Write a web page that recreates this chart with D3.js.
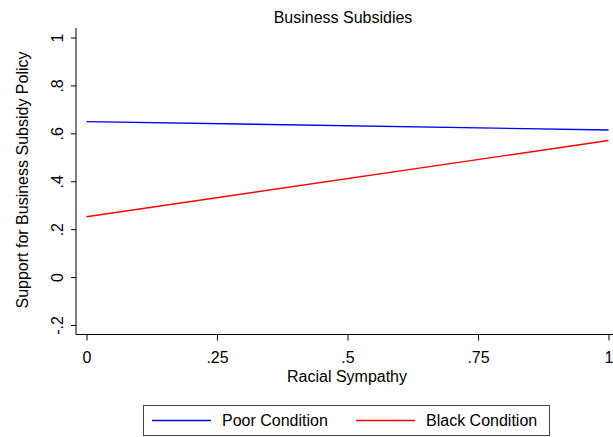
<!DOCTYPE html>
<html>
<head>
<meta charset="utf-8">
<script src="https://cdn.jsdelivr.net/npm/d3@7"></script>
<style>
  body { margin: 0; background: #fff; }
  text { font-family: "Liberation Sans", Arial, Helvetica, sans-serif; fill: #000; }
</style>
</head>
<body>
<svg></svg>
<script>
// fitted lines
var sympathy = [0, 1];
var poorCondition = [0.649, 0.614];
var blackCondition = [0.252, 0.570];
var xTicks = [0, 0.25, 0.5, 0.75, 1];
var xTickLabels = ["0", ".25", ".5", ".75", "1"];
var yTicks = [-0.2, 0, 0.2, 0.4, 0.6, 0.8, 1];
var yTickLabels = ["-.2", "0", ".2", ".4", ".6", ".8", "1"];
var seriesNames = ["Poor Condition", "Black Condition"];
var seriesColors = ["#0000ff", "#ff0000"];

var width = 613;
var height = 437;
var fontSize = 16;
var font = "'Liberation Sans', Arial, Helvetica, sans-serif";

var svg = d3.select("svg")
    .attr("width", width)
    .attr("height", height);

var x = d3.scaleLinear().domain([0, 1]).range([86.5, 608.5]);
var y = d3.scaleLinear().domain([-0.2, 1]).range([325, 37.5]);

var axisLeftX = 76;
var axisBottomY = 334.5;

// y axis
var yAxis = svg.append("g")
    .attr("transform", "translate(" + axisLeftX + ",0)")
    .call(d3.axisLeft(y)
      .tickValues(yTicks)
      .tickFormat((d, i) => yTickLabels[i])
      .tickSize(5)
      .tickSizeOuter(0))
    .attr("font-size", fontSize)
    .attr("font-family", font);
yAxis.select(".domain").remove();
yAxis.append("line")
    .attr("x1", 0).attr("x2", 0)
    .attr("y1", 28).attr("y2", axisBottomY)
    .attr("stroke", "#000");
yAxis.selectAll(".tick line").attr("stroke", "#000");
yAxis.selectAll(".tick text")
    .attr("x", 0)
    .attr("dy", 0)
    .attr("transform", "translate(-13,0) rotate(-90)")
    .attr("text-anchor", "middle");

// x axis
var xAxis = svg.append("g")
    .attr("transform", "translate(0," + axisBottomY + ")")
    .call(d3.axisBottom(x)
      .tickValues(xTicks)
      .tickFormat((d, i) => xTickLabels[i])
      .tickSize(6)
      .tickSizeOuter(0))
    .attr("font-size", fontSize)
    .attr("font-family", font);
xAxis.select(".domain").remove();
xAxis.append("line")
    .attr("x1", axisLeftX).attr("x2", width)
    .attr("y1", 0).attr("y2", 0)
    .attr("stroke", "#000");
xAxis.selectAll(".tick line").attr("stroke", "#000");
xAxis.selectAll(".tick text")
    .attr("y", 28)
    .attr("dy", 0);

// titles
svg.append("text")
    .attr("x", 343)
    .attr("y", 23)
    .attr("text-anchor", "middle")
    .style("font-size", fontSize + "px")
    .text("Business Subsidies");

svg.append("text")
    .attr("x", 347)
    .attr("y", 382)
    .attr("text-anchor", "middle")
    .style("font-size", fontSize + "px")
    .text("Racial Sympathy");

svg.append("text")
    .attr("transform", "translate(28,180) rotate(-90)")
    .attr("text-anchor", "middle")
    .style("font-size", fontSize + "px")
    .text("Support for Business Subsidy Policy");

// lines
var series = [poorCondition, blackCondition];
var line = d3.line()
    .x((d, i) => x(sympathy[i]))
    .y(d => y(d));

svg.selectAll(".fit")
    .data(series)
    .enter()
    .append("path")
      .classed("fit", true)
      .attr("d", line)
      .attr("fill", "none")
      .attr("stroke", (d, i) => seriesColors[i])
      .attr("stroke-width", 1.4);

// legend
var legend = svg.append("g");
legend.append("rect")
    .attr("x", 143.5)
    .attr("y", 405.5)
    .attr("width", 406)
    .attr("height", 30)
    .attr("fill", "#fff")
    .attr("stroke", "#444");

var legendX = [152, 356];
var items = legend.selectAll(".item")
    .data(seriesNames)
    .enter()
    .append("g")
      .classed("item", true)
      .attr("transform", (d, i) => "translate(" + legendX[i] + ",420.5)");

items.append("line")
    .attr("x1", 0).attr("x2", 59)
    .attr("stroke", (d, i) => seriesColors[i])
    .attr("stroke-width", 1.4);

items.append("text")
    .attr("x", 70)
    .attr("y", 5.5)
    .style("font-size", fontSize + "px")
    .text(d => d);
</script>
</body>
</html>
